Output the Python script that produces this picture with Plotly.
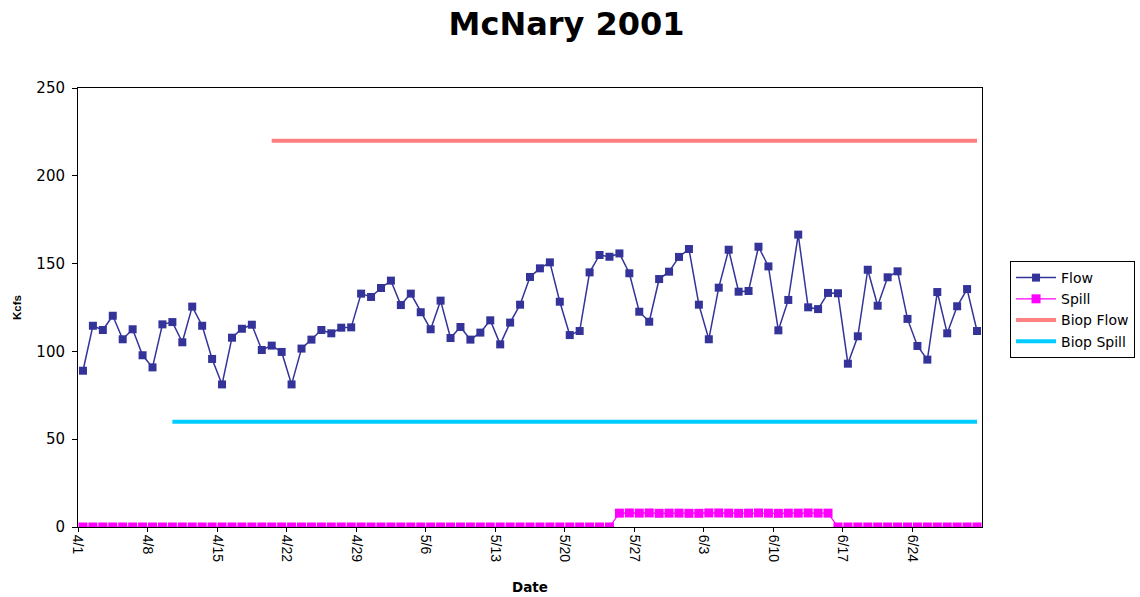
import pandas as pd
import plotly.graph_objects as go

# ---- data ----
start_date = "2001-04-01"
end_date = "2001-06-30"

flow = [89, 114.6, 112.2, 120.3, 106.9, 112.6, 97.8, 90.9, 115.4, 116.7,
        105.2, 125.5, 114.6, 95.7, 81.2, 107.8, 112.9, 115.2, 100.8, 103.3,
        99.7, 81.2, 101.6, 106.7, 112.2, 110.3, 113.5, 113.7, 132.9, 131.0,
        136.1, 140.3, 126.4, 132.9, 122.3, 112.6, 128.9, 107.6, 113.9, 106.7,
        110.7, 117.7, 104.0, 116.4, 126.6, 142.4, 147.3, 150.7, 128.3, 109.3,
        111.6, 145.0, 154.9, 153.9, 155.8, 144.5, 122.6, 116.9, 141.2, 145.4,
        153.8, 158.3, 126.6, 106.9, 136.3, 157.9, 134.0, 134.4, 159.6, 148.4,
        112.0, 129.3, 166.5, 125.1, 124.1, 133.3, 133.1, 93.0, 108.6, 146.5,
        126.0, 142.2, 145.6, 118.5, 103.1, 95.3, 133.8, 110.3, 125.7, 135.5,
        111.6]

spill = [0] * 54 + [7.9, 8.0, 7.9, 8.0, 7.8, 7.9, 7.9, 7.8, 7.8, 8.0, 8.0,
                    7.9, 7.8, 7.9, 8.0, 7.9, 7.8, 7.9, 7.9, 8.0, 7.9, 7.9] + [0] * 15

biop_flow_start = "2001-04-20"
biop_flow_value = 220
biop_spill_start = "2001-04-10"
biop_spill_value = 60

tick_dates = ["2001-04-01", "2001-04-08", "2001-04-15", "2001-04-22", "2001-04-29",
              "2001-05-06", "2001-05-13", "2001-05-20", "2001-05-27", "2001-06-03",
              "2001-06-10", "2001-06-17", "2001-06-24"]
tick_labels = ["4/1", "4/8", "4/15", "4/22", "4/29", "5/6", "5/13", "5/20",
               "5/27", "6/3", "6/10", "6/17", "6/24"]

# ---- build ----
half_day = pd.Timedelta(hours=12)
dates = pd.date_range(start_date, end_date) + half_day
bf_dates = pd.date_range(biop_flow_start, end_date) + half_day
bs_dates = pd.date_range(biop_spill_start, end_date) + half_day

fig = go.Figure()
fig.add_trace(go.Scatter(
    x=dates, y=flow, name="Flow", mode="lines+markers",
    line=dict(color="#333399", width=1.5),
    marker=dict(symbol="square", size=8, color="#333399")))
fig.add_trace(go.Scatter(
    x=dates, y=spill, name="Spill", mode="lines+markers",
    line=dict(color="#FF00FF", width=1.2),
    marker=dict(symbol="square", size=9, color="#FF00FF")))
fig.add_trace(go.Scatter(
    x=bf_dates, y=[biop_flow_value] * len(bf_dates), name="Biop Flow", mode="lines",
    line=dict(color="#FF8080", width=4)))
fig.add_trace(go.Scatter(
    x=bs_dates, y=[biop_spill_value] * len(bs_dates), name="Biop Spill", mode="lines",
    line=dict(color="#00CCFF", width=4)))

wide_font = "DejaVu Sans, Verdana, sans-serif"
narrow_font = "Liberation Sans, Arial, sans-serif"

fig.update_layout(
    width=1140, height=597,
    margin=dict(l=78, r=158, t=88, b=70),
    paper_bgcolor="white", plot_bgcolor="white",
    font=dict(family=wide_font, color="black"),
    title=dict(text="<b>McNary 2001</b>", x=0.497, xref="container", xanchor="center",
               y=0.96, yref="container", yanchor="middle",
               font=dict(size=32, family=wide_font, color="black")),
    showlegend=True,
    legend=dict(xref="container", yref="container", x=0.886, y=0.5628,
                xanchor="left", yanchor="top",
                bordercolor="black", borderwidth=1, bgcolor="white",
                font=dict(size=14, family=wide_font, color="black"),
                tracegroupgap=0, itemwidth=40),
    xaxis=dict(
        type="date", range=[start_date, "2001-07-01"], automargin=False,
        tickmode="array", tickvals=tick_dates, ticktext=tick_labels,
        tickangle=90, ticks="outside", ticklen=4, tickcolor="black",
        tickfont=dict(size=14, family=narrow_font),
        showline=True, linecolor="black", linewidth=1, mirror=True,
        showgrid=False, zeroline=False,
        title=dict(text="<b>Date</b>", font=dict(size=13.5, family=wide_font), standoff=21),
    ),
    yaxis=dict(
        range=[0, 250], tickvals=[0, 50, 100, 150, 200, 250], automargin=False,
        ticks="outside", ticklen=5, tickcolor="black", ticklabelstandoff=4,
        tickfont=dict(size=15, family=wide_font),
        showline=True, linecolor="black", linewidth=1, mirror=True,
        showgrid=False, zeroline=False,
        title=dict(text="<b>Kcfs</b>", font=dict(size=11.5, family=narrow_font), standoff=12),
    ),
)

fig.write_html("out.html", config={"displayModeBar": False},
               post_script="document.body.style.margin='0';")
